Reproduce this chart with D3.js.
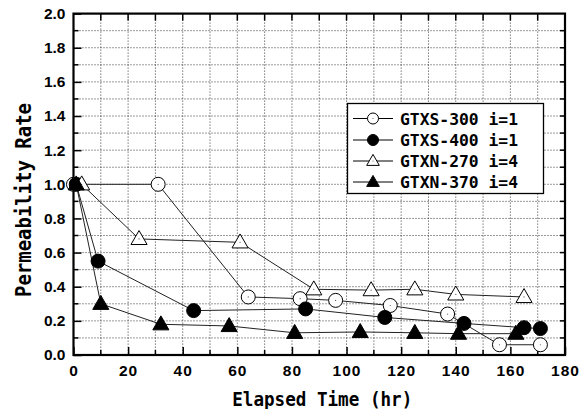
<!DOCTYPE html>
<html><head><meta charset="utf-8">
<script src="https://cdn.jsdelivr.net/npm/d3@7"></script>
<style>
html,body{margin:0;padding:0;background:#fff;}
svg{display:block;}
</style></head>
<body>
<svg id="chart" width="583" height="409"></svg>
<script>
// ---- data ----
const seriesNames = ["GTXS-300 i=1", "GTXS-400 i=1", "GTXN-270 i=4", "GTXN-370 i=4"];
const gtxs300T = [0, 31, 64, 83, 96, 116, 137, 156, 171];
const gtxs300V = [1.0, 1.0, 0.34, 0.33, 0.32, 0.29, 0.24, 0.06, 0.06];
const gtxs400T = [1, 9, 44, 85, 114, 143, 165, 171];
const gtxs400V = [1.0, 0.55, 0.26, 0.27, 0.22, 0.185, 0.16, 0.155];
const gtxn270T = [3, 24, 61, 88, 109, 125, 140, 165];
const gtxn270V = [1.0, 0.68, 0.66, 0.385, 0.38, 0.385, 0.355, 0.34];
const gtxn370T = [1, 10, 32, 57, 81, 105, 125, 141, 162];
const gtxn370V = [1.0, 0.30, 0.18, 0.17, 0.13, 0.135, 0.13, 0.125, 0.125];
const xTicks = [0, 20, 40, 60, 80, 100, 120, 140, 160, 180];
const yTicks = [0.0, 0.2, 0.4, 0.6, 0.8, 1.0, 1.2, 1.4, 1.6, 1.8, 2.0];
const xTitle = "Elapsed Time (hr)";
const yTitle = "Permeability Rate";

const series = [
  {name: seriesNames[0], t: gtxs300T, v: gtxs300V, shape: "circle", fill: "#fff"},
  {name: seriesNames[1], t: gtxs400T, v: gtxs400V, shape: "circle", fill: "#000"},
  {name: seriesNames[2], t: gtxn270T, v: gtxn270V, shape: "triangle", fill: "#fff"},
  {name: seriesNames[3], t: gtxn370T, v: gtxn370V, shape: "triangle", fill: "#000"}
];

// ---- layout ----
const svg = d3.select("#chart");
const L = 73.5, R = 565, T = 13.6, B = 355;
const x = d3.scaleLinear().domain([0, 180]).range([L, R]);
const y = d3.scaleLinear().domain([0, 2]).range([B, T]);

const g = svg.append("g");

// grid
const xMinor = d3.range(10, 180, 10);
const yMinor = d3.range(1, 20).map(d => d / 10);
g.append("g").selectAll("line").data(xMinor).join("line")
  .attr("x1", d => x(d)).attr("x2", d => x(d)).attr("y1", T).attr("y2", B)
  .attr("stroke", "#000").attr("stroke-width", 0.8).attr("stroke-dasharray", "1,2");
g.append("g").selectAll("line").data(yMinor).join("line")
  .attr("y1", d => y(d)).attr("y2", d => y(d)).attr("x1", L).attr("x2", R)
  .attr("stroke", "#000").attr("stroke-width", 0.8).attr("stroke-dasharray", "1,2");

// axes with inner ticks
const tickFont = "bold 15.5px 'Liberation Sans', Arial, sans-serif";
const xAxis = d3.axisBottom(x).tickValues(xTicks).tickSizeInner(-8).tickSizeOuter(0).tickPadding(10).tickFormat(d3.format("d"));
const yAxis = d3.axisLeft(y).tickValues(yTicks).tickSizeInner(-8).tickSizeOuter(0).tickPadding(8).tickFormat(d3.format(".1f"));
const gx = g.append("g").attr("transform", `translate(0,${B})`).call(xAxis);
const gy = g.append("g").attr("transform", `translate(${L},0)`).call(yAxis);
[gx, gy].forEach(a => {
  a.select(".domain").remove();
  a.selectAll(".tick line").attr("stroke", "#000").attr("stroke-width", 1.5);
  a.selectAll(".tick text").style("font", tickFont).attr("fill", "#000");
});
gx.selectAll(".tick text").attr("letter-spacing", "1px");
// minor ticks (bottom/top/left/right)
g.append("g").selectAll("line").data(xMinor.filter(d => d % 20 !== 0)).join("line")
  .attr("x1", d => x(d)).attr("x2", d => x(d)).attr("y1", B).attr("y2", B - 5)
  .attr("stroke", "#000").attr("stroke-width", 1.5);
g.append("g").selectAll("line").data(xMinor).join("line")
  .attr("x1", d => x(d)).attr("x2", d => x(d)).attr("y1", T).attr("y2", T + 7)
  .attr("stroke", "#000").attr("stroke-width", 1.5);
g.append("g").selectAll("line").data(yMinor.filter(d => Math.round(d * 10) % 2 === 1)).join("line")
  .attr("y1", d => y(d)).attr("y2", d => y(d)).attr("x1", L).attr("x2", L + 5)
  .attr("stroke", "#000").attr("stroke-width", 1.5);
g.append("g").selectAll("line").data(yMinor).join("line")
  .attr("y1", d => y(d)).attr("y2", d => y(d)).attr("x1", R).attr("x2", R - 5)
  .attr("stroke", "#000").attr("stroke-width", 1.5);

// frame
g.append("rect").attr("x", L).attr("y", T).attr("width", R - L).attr("height", B - T)
  .attr("fill", "none").attr("stroke", "#000").attr("stroke-width", 2.2);

// titles
const monoFont = "'DejaVu Sans Mono', monospace";
svg.append("text").attr("x", (L + R) / 2 + 3).attr("y", 405.5)
  .attr("text-anchor", "middle").attr("font-family", monoFont).attr("font-weight", "bold")
  .attr("font-size", 19.5).attr("textLength", 180).attr("lengthAdjust", "spacingAndGlyphs")
  .text(xTitle);
svg.append("text").attr("transform", `translate(31,${(103 + 297) / 2}) rotate(-90)`)
  .attr("text-anchor", "middle").attr("font-family", monoFont).attr("font-weight", "bold")
  .attr("font-size", 21.5).attr("textLength", 194).attr("lengthAdjust", "spacingAndGlyphs")
  .text(yTitle);

// markers
function drawMarker(sel, shape, fill, size) {
  if (shape === "circle") {
    sel.append("circle").attr("r", size).attr("fill", fill).attr("stroke", "#000").attr("stroke-width", 1);
  } else {
    const h = size * 2.0, w = size * 2.3;
    sel.append("path").attr("d", `M0,${-h * 0.6}L${w / 2},${h * 0.4}L${-w / 2},${h * 0.4}Z`)
      .attr("fill", fill).attr("stroke", "#000").attr("stroke-width", 1);
  }
  if (fill === "#fff") sel.append("circle").attr("r", 0.6).attr("fill", "#555");
}

const line = d3.line().x(d => x(d[0])).y(d => y(d[1]));
series.forEach(s => {
  const pts = s.t.map((t, i) => [t, s.v[i]]);
  g.append("path").attr("d", line(pts)).attr("fill", "none").attr("stroke", "#222").attr("stroke-width", 1);
});
series.forEach(s => {
  const pts = s.t.map((t, i) => [t, s.v[i]]);
  g.append("g").selectAll("g").data(pts).join("g")
    .attr("transform", d => `translate(${x(d[0])},${y(d[1])})`)
    .each(function () { drawMarker(d3.select(this), s.shape, s.fill, 7); });
});

// legend
const lg = svg.append("g");
lg.append("rect").attr("x", 347.5).attr("y", 103.5).attr("width", 196).attr("height", 90)
  .attr("fill", "#fff").attr("stroke", "#000").attr("stroke-width", 1.3);
const rowY = [118.5, 140, 161, 182];
series.forEach((s, i) => {
  const row = lg.append("g").attr("transform", `translate(0,${rowY[i]})`);
  row.append("line").attr("x1", 353).attr("x2", 393).attr("stroke", "#000").attr("stroke-width", 1);
  const m = row.append("g").attr("transform", "translate(373,0)");
  drawMarker(m, s.shape, s.fill, 5.5);
  row.append("text").attr("x", 400).attr("y", 6).attr("font-family", monoFont).attr("font-weight", "bold")
    .attr("font-size", 16.5).attr("textLength", 118).attr("lengthAdjust", "spacingAndGlyphs").text(s.name);
});
</script>
</body></html>
